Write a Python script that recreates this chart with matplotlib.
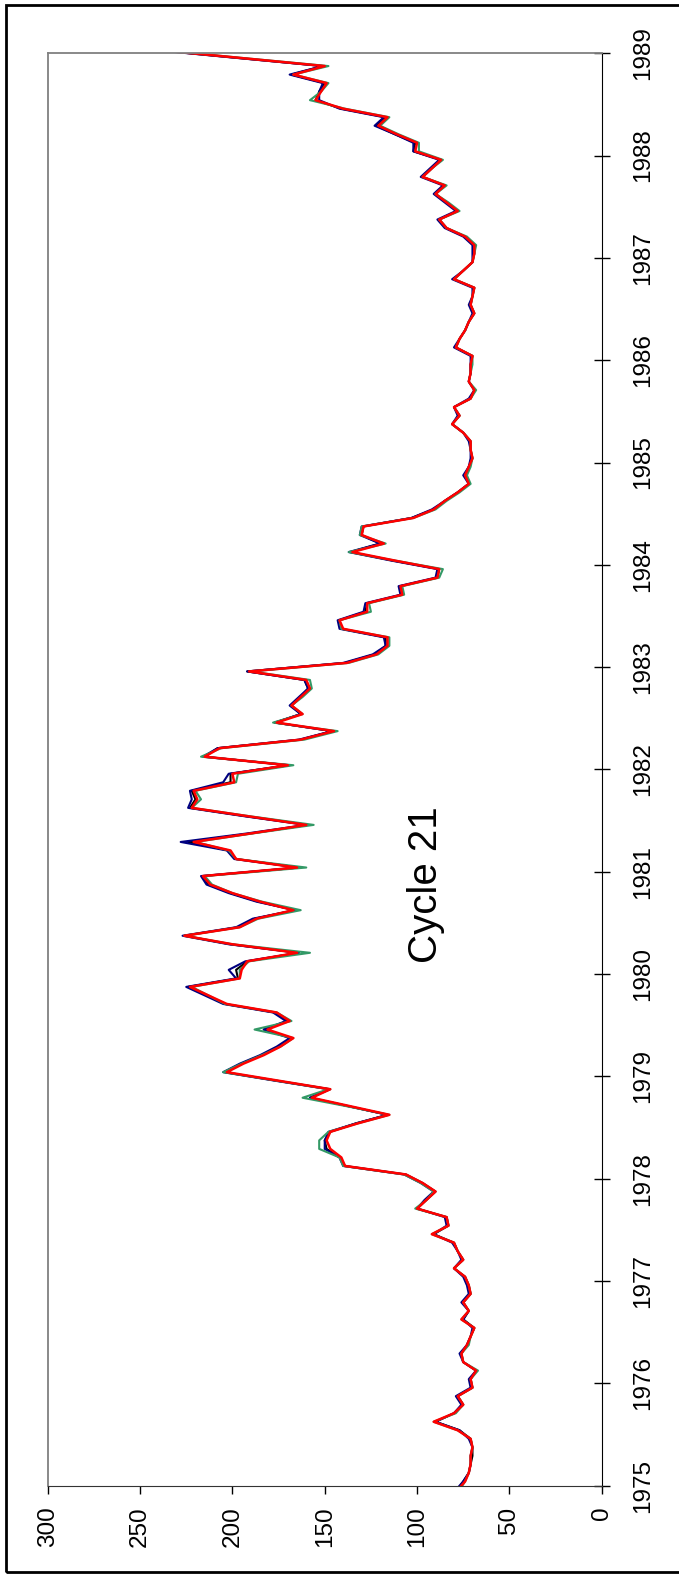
import numpy as np
import matplotlib.pyplot as plt
from matplotlib.patches import Rectangle

plt.rcParams['font.family'] = ['Liberation Sans', 'DejaVu Sans']

# monthly means, Dec 1974 .. Jan 1989 (one row per year)
flux_black = [78,
    75, 72, 71, 70, 70, 71, 77, 90, 80, 75, 78, 70,
    71, 68, 75, 76, 73, 71, 69, 75, 72, 75, 71, 72,
    74, 80, 75, 78, 80, 91, 83, 84, 100, 95, 90, 97,
    106, 139, 142, 149, 150, 147, 133, 116, 137, 158, 147, 176,
    204, 195, 184, 175, 168, 183, 170, 177, 204, 214, 224, 197,
    198, 192, 164, 201, 226, 197, 188, 166, 186, 201, 213, 216,
    164, 198, 202, 224, 190, 159, 192, 223, 220, 222, 201, 201,
    170, 215, 208, 163, 146, 177, 163, 168, 163, 159, 161, 192,
    139, 123, 117, 117, 141, 142, 128, 127, 108, 109, 89, 88,
    113, 136, 120, 130, 129, 103, 91, 85, 78, 72, 74, 72,
    70, 71, 71, 75, 81, 77, 80, 71, 69, 72, 71, 71,
    70, 79, 77, 74, 72, 69, 71, 70, 69, 80, 75, 70,
    69, 69, 74, 84, 88, 78, 84, 90, 85, 97, 92, 87,
    102, 101, 112, 122, 117, 141, 155, 153, 150, 168, 151, 199,
    247]

flux_navy = [79,
    75, 72, 71, 71, 70, 72, 77, 90, 80, 76, 79, 71,
    72, 68, 75, 77, 73, 71, 70, 75, 72, 76, 72, 73,
    75, 80, 76, 78, 81, 91, 84, 85, 100, 96, 91, 98,
    107, 140, 142, 150, 150, 148, 133, 116, 137, 158, 148, 177,
    205, 196, 185, 176, 169, 183, 171, 178, 205, 215, 225, 198,
    202, 193, 164, 202, 227, 198, 189, 166, 187, 202, 214, 217,
    164, 199, 203, 228, 192, 160, 193, 224, 222, 223, 205, 202,
    169, 216, 208, 164, 146, 177, 163, 169, 164, 159, 161, 192,
    140, 124, 117, 118, 142, 143, 129, 128, 109, 110, 90, 89,
    114, 137, 120, 131, 130, 103, 92, 85, 78, 72, 75, 72,
    71, 71, 72, 75, 81, 78, 80, 72, 69, 72, 71, 71,
    71, 80, 77, 74, 72, 70, 72, 70, 70, 81, 75, 70,
    70, 70, 75, 85, 89, 79, 85, 91, 86, 98, 93, 88,
    102, 102, 112, 123, 118, 142, 153, 153, 151, 169, 151, 200,
    248]

flux_green = [77,
    74, 72, 71, 71, 70, 71, 78, 91, 79, 75, 78, 70,
    71, 67, 75, 76, 72, 71, 69, 76, 72, 75, 71, 72,
    74, 80, 75, 78, 80, 92, 83, 84, 101, 95, 91, 98,
    107, 140, 142, 153, 153, 148, 132, 115, 138, 162, 148, 176,
    205, 195, 184, 174, 167, 188, 168, 176, 204, 213, 222, 196,
    196, 191, 158, 200, 226, 196, 186, 163, 184, 200, 211, 215,
    160, 198, 202, 220, 189, 156, 190, 222, 217, 220, 198, 197,
    167, 217, 206, 161, 143, 178, 162, 168, 162, 157, 158, 190,
    137, 121, 115, 115, 141, 142, 125, 126, 107, 108, 88, 86,
    112, 137, 117, 131, 130, 102, 90, 84, 77, 71, 73, 71,
    70, 71, 71, 75, 81, 77, 80, 71, 68, 72, 71, 70,
    70, 79, 77, 74, 72, 69, 71, 70, 69, 80, 75, 70,
    69, 68, 73, 84, 88, 77, 83, 90, 84, 97, 92, 86,
    99, 99, 110, 120, 115, 139, 158, 152, 148, 167, 148, 197,
    245]

flux_red = [78,
    74, 72, 71, 71, 70, 71, 78, 91, 80, 75, 78, 70,
    71, 68, 75, 76, 73, 71, 69, 76, 72, 75, 71, 72,
    74, 80, 75, 78, 80, 92, 83, 84, 100, 95, 90, 97,
    106, 139, 141, 147, 149, 147, 132, 115, 136, 157, 147, 175,
    203, 194, 183, 174, 167, 181, 169, 176, 203, 213, 223, 196,
    195, 192, 165, 200, 226, 196, 187, 167, 185, 200, 212, 216,
    165, 198, 201, 221, 190, 160, 191, 222, 219, 221, 199, 200,
    170, 215, 207, 163, 145, 176, 162, 168, 163, 158, 160, 191,
    138, 122, 116, 116, 140, 142, 127, 127, 108, 109, 89, 88,
    112, 135, 118, 130, 129, 102, 91, 85, 78, 72, 74, 72,
    70, 71, 71, 75, 81, 77, 80, 71, 69, 72, 71, 71,
    70, 79, 77, 74, 72, 69, 71, 70, 69, 80, 75, 70,
    69, 69, 74, 84, 88, 78, 84, 90, 85, 97, 92, 87,
    101, 100, 111, 121, 116, 140, 155, 152, 149, 167, 150, 198,
    246]

years = list(range(1975, 1990))
value_ticks = [0, 50, 100, 150, 200, 250, 300]

# mid-month positions, starting with December 1974
t = 1975 + (np.arange(len(flux_red)) - 0.5) / 12

fig = plt.figure(figsize=(6.79, 15.76), dpi=100)
ax = fig.add_axes([0.0703, 0.0573, 0.8159, 0.9089])

ax.plot(flux_black, t, color='black', lw=1.5)
ax.plot(flux_navy, t, color='#000080', lw=1.5)
ax.plot(flux_green, t, color='#339966', lw=1.5)
ax.plot(flux_red, t, color='#ff0000', lw=1.8)

ax.set_xlim(300, 0)
ax.set_ylim(1975, 1989)

ax.set_xticks(value_ticks)
ax.set_xticklabels([str(v) for v in value_ticks], rotation=90, fontsize=17.5)
ax.yaxis.tick_right()
ax.set_yticks(years)
ax.set_yticklabels([str(y) for y in years], rotation=90, va='center', fontsize=17.5)

ax.tick_params(axis='x', direction='out', length=6, width=1, pad=9, colors='black')
ax.tick_params(axis='y', direction='inout', length=11.5, width=1, pad=16, colors='black')

ax.spines['left'].set_color('#808080')
ax.spines['top'].set_color('#808080')
ax.spines['left'].set_linewidth(1.3)
ax.spines['top'].set_linewidth(1.3)
ax.spines['right'].set_color('black')
ax.spines['bottom'].set_color('#333333')

ax.text(95, 1980.87, 'Cycle 21', rotation=90, ha='center', va='center', fontsize=29)

# outer frame around the chart
fig.add_artist(Rectangle((5.5 / 679, 4 / 1576), 1.1, 1 - 8.5 / 1576,
                         transform=fig.transFigure, fill=False, lw=2,
                         edgecolor='black'))

fig.savefig('out.png', dpi=100)
